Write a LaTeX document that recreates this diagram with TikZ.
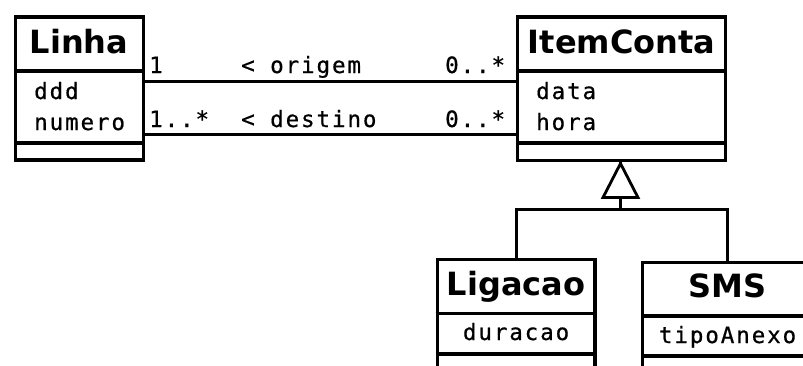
\documentclass[tikz,border=0pt]{standalone}
\usepackage{fontspec}
\setsansfont{DejaVu Sans}
\newfontfamily\umlmono{DejaVu Sans Mono}[LetterSpace=8.5, FakeBold=0.6]
\begin{document}
\begin{tikzpicture}[x=1pt,y=-1pt,
  cls/.style={draw, line width=3.2pt, inner sep=0pt, anchor=north west},
  sepline/.style={line width=3.2pt},
  assoc/.style={line width=3pt},
  genline/.style={line width=3pt},
  tri/.style={line width=2.8pt, line join=miter},
  title/.style={inner sep=0pt, anchor=base, font=\sffamily\bfseries\fontsize{32}{36}\selectfont},
  attr/.style={inner sep=0pt, anchor=base west, font=\umlmono\fontsize{22.5}{26}\selectfont},
  attrc/.style={inner sep=0pt, anchor=base, font=\umlmono\fontsize{22.5}{26}\selectfont},
]
\path[use as bounding box, clip] (0,0) rectangle (803,365);
\fill[white] (0,0) rectangle (803,365);

% class boxes
\node[cls, minimum width=128pt, minimum height=143pt] (linha) at (13.5,15.3) {};
\node[cls, minimum width=208pt, minimum height=143.5pt] (itemconta) at (516,15.3) {};
\node[cls, minimum width=157.6pt, minimum height=200pt] (ligacao) at (435.7,257.5) {};
\node[cls, minimum width=170pt, minimum height=200pt] (sms) at (641,260.5) {};

% compartments
\draw[sepline] (linha.west |- 0,71) -- (linha.east |- 0,71);
\draw[sepline] (linha.west |- 0,143) -- (linha.east |- 0,143);
\draw[sepline] (itemconta.west |- 0,71) -- (itemconta.east |- 0,71);
\draw[sepline] (itemconta.west |- 0,143) -- (itemconta.east |- 0,143);
\draw[sepline] (ligacao.west |- 0,313.5) -- (ligacao.east |- 0,313.5);
\draw[sepline] (ligacao.west |- 0,354) -- (ligacao.east |- 0,354);
\draw[sepline] (sms.west |- 0,316) -- (sms.east |- 0,316);
\draw[sepline] (sms.west |- 0,356) -- (sms.east |- 0,356);

% titles
\node[title] (tlinha) at (linha.north |- 0,53) {Linha};
\node[title] (titem) at (itemconta.north |- 0,53) {ItemConta};
\node[title] (tlig) at (ligacao.north |- 0,295) {Ligacao};
\node[title] (tsms) at (sms.north |- 0,297) {SMS};

% attributes
\node[attr] (addd) at (34,99) {ddd};
\node[attr] (anum) at (34,130) {numero};
\node[attr] (adata) at (536,99) {data};
\node[attr] (ahora) at (536,130) {hora};
\node[attrc] (adur) at (ligacao.north |- 0,340) {duracao};
\node[attrc] (atipo) at (sms.north |- 0,343) {tipoAnexo};

% associations
\draw[assoc] (linha.east |- 0,81) -- (itemconta.west |- 0,81);
\draw[assoc] (linha.east |- 0,134) -- (itemconta.west |- 0,134);
\node[attr] (m1) at (149,73) {1};
\node[attr] (r1) at (241,73) {< origem};
\node[attr] (m2) at (445,73) {0..*};
\node[attr] (m3) at (149,127) {1..*};
\node[attr] (r2) at (241,127) {< destino};
\node[attr] (m4) at (445,127) {0..*};

% generalization
\coordinate (apex) at (620.5,163.5);
\coordinate (tbl) at (603,197.5);
\coordinate (tbr) at (638,197.5);
\coordinate (tbm) at (620.5,197.5);
\coordinate (junc) at (620.5,209);
\draw[genline] (itemconta.south -| apex) -- (apex);
\draw[tri] (apex) -- (tbl) -- (tbr) -- cycle;
\draw[genline] (tbm) -- (junc);
\draw[genline] (ligacao.north) |- (junc) -| (sms.north);
\end{tikzpicture}
\end{document}
